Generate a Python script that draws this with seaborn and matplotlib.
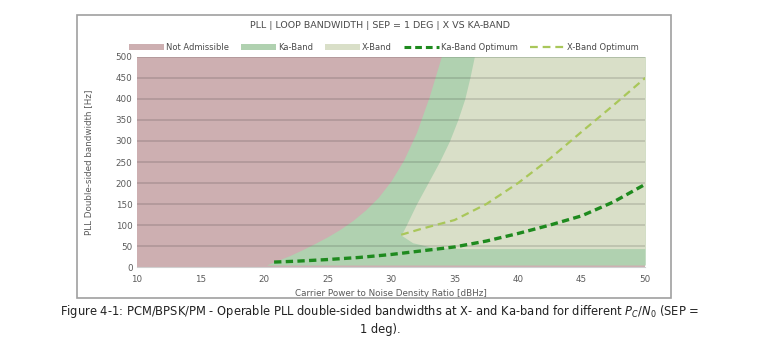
import numpy as np
import pandas as pd
import matplotlib.pyplot as plt
import seaborn as sns
from matplotlib.patches import Patch, Rectangle
from matplotlib.lines import Line2D

# values
ka_opt_x = [20.8, 22.5, 25, 27.5, 30, 32.5, 35, 37.5, 40, 42.5, 45, 47.5, 50]
ka_opt_y = [12, 14, 18, 23, 30, 39, 48, 62, 80, 100, 122, 155, 197]
x_opt_x = [30.8, 32.5, 35, 37.5, 40, 42.5, 45, 47.5, 50]
x_opt_y = [77, 92, 112, 150, 200, 258, 322, 385, 450]

# left edge of the Ka-band (operable) region
ka_edge_y = [5, 15, 27, 41, 56, 72, 90, 111, 136, 166, 205, 255, 320, 405, 505]
ka_edge_x = [20.2, 21, 22, 23, 24, 25, 26, 27, 28, 29, 30, 31, 32, 33, 34]

# left edge of the X-band region (lower tip included)
xb_edge_y = [44, 45, 48, 58, 76, 100, 150, 200, 250, 300, 350, 400, 450, 500]
xb_edge_x = [36.0, 34.4, 33.1, 31.7, 30.8, 31.2, 32.0, 32.9, 33.8, 34.6, 35.25, 35.8, 36.2, 36.55]

x_min, x_max = 10, 50
y_ticks = list(range(0, 501, 50))
x_ticks = list(range(10, 51, 5))

c_red = "#CDAFB1"
c_ka = "#B0D1B0"
c_xb = "#D9DFC8"
c_ka_line = "#1E8A1E"
c_xb_line = "#A9C75A"

sns.set_style("white")
plt.rcParams["font.family"] = ["DejaVu Sans"]

fig = plt.figure(figsize=(7.6, 3.6), dpi=100)
ax = fig.add_axes([0.180, 0.258, 0.669, 0.584])

# chart frame
fig.patches.append(Rectangle((77 / 760, 1 - 298 / 360), 594 / 760, 283 / 360,
                             transform=fig.transFigure, fill=False,
                             edgecolor="#a0a0a0", linewidth=1.2))

# regions
ax.fill_between([x_min, x_max], 0, 500, color=c_red, linewidth=0, zorder=1)
ax.fill_betweenx(ka_edge_y, ka_edge_x, x_max, color=c_ka, linewidth=0, zorder=2)
ax.fill_betweenx(xb_edge_y, xb_edge_x, x_max, color=c_xb, linewidth=0, zorder=3)

for yv in y_ticks[1:]:
    ax.axhline(yv, color="black", alpha=0.13, linewidth=1.3, zorder=4)

opt = pd.DataFrame({"x": ka_opt_x, "y": ka_opt_y})
sns.lineplot(data=opt, x="x", y="y", ax=ax, color=c_ka_line, linewidth=2.4,
             linestyle=(0, (2.2, 1.3)), zorder=6)
opt_x = pd.DataFrame({"x": x_opt_x, "y": x_opt_y})
sns.lineplot(data=opt_x, x="x", y="y", ax=ax, color=c_xb_line, linewidth=1.6,
             linestyle=(0, (3.5, 2.2)), zorder=6)

ax.set_xlim(x_min, x_max)
ax.set_ylim(0, 500)
ax.set_xticks(x_ticks)
ax.set_yticks(y_ticks)
ax.tick_params(axis="both", labelsize=6.3, colors="#5a5a5a", length=0, pad=3)
ax.tick_params(axis="x", length=3, width=0.8, color="#c8c8c8")
for s in ["top", "right", "left"]:
    ax.spines[s].set_visible(False)
ax.spines["bottom"].set_color("#d0d0d0")
ax.set_xlabel("Carrier Power to Noise Density Ratio [dBHz]", fontsize=6.3, color="#5a5a5a", labelpad=3)
ax.set_ylabel("PLL Double-sided bandwidth [Hz]", fontsize=6.3, color="#5a5a5a", labelpad=16)

fig.text(0.5, 1 - 25 / 360, "PLL | LOOP BANDWIDTH | SEP = 1 DEG | X VS KA-BAND",
         ha="center", va="center", fontsize=6.8, color="#4a4a4a")

handles = [
    Patch(facecolor=c_red, edgecolor="none"),
    Patch(facecolor=c_ka, edgecolor="none"),
    Patch(facecolor=c_xb, edgecolor="none"),
    Line2D([], [], color=c_ka_line, linewidth=2.2, linestyle=(0, (2.2, 1.3))),
    Line2D([], [], color=c_xb_line, linewidth=1.6, linestyle=(0, (3.5, 2.2))),
]
labels = ["Not Admissible", "Ka-Band", "X-Band", "Ka-Band Optimum", "X-Band Optimum"]
leg = fig.legend(handles, labels, loc="center", bbox_to_anchor=(0.505, 1 - 47 / 360),
                 ncol=5, frameon=False, fontsize=6.0, handlelength=4.2,
                 handleheight=0.7, handletextpad=0.2, columnspacing=1.5)
for t in leg.get_texts():
    t.set_color("#4a4a4a")

fig.text(0.5, 1 - 312 / 360,
         "Figure 4-1: PCM/BPSK/PM - Operable PLL double-sided bandwidths at X- and Ka-band for different $P_C/N_0$ (SEP =",
         ha="center", va="center", fontsize=8.3, color="#222222")
fig.text(0.5, 1 - 329 / 360, "1 deg).", ha="center", va="center", fontsize=8.3, color="#222222")

fig.savefig("out.png", dpi=100)
